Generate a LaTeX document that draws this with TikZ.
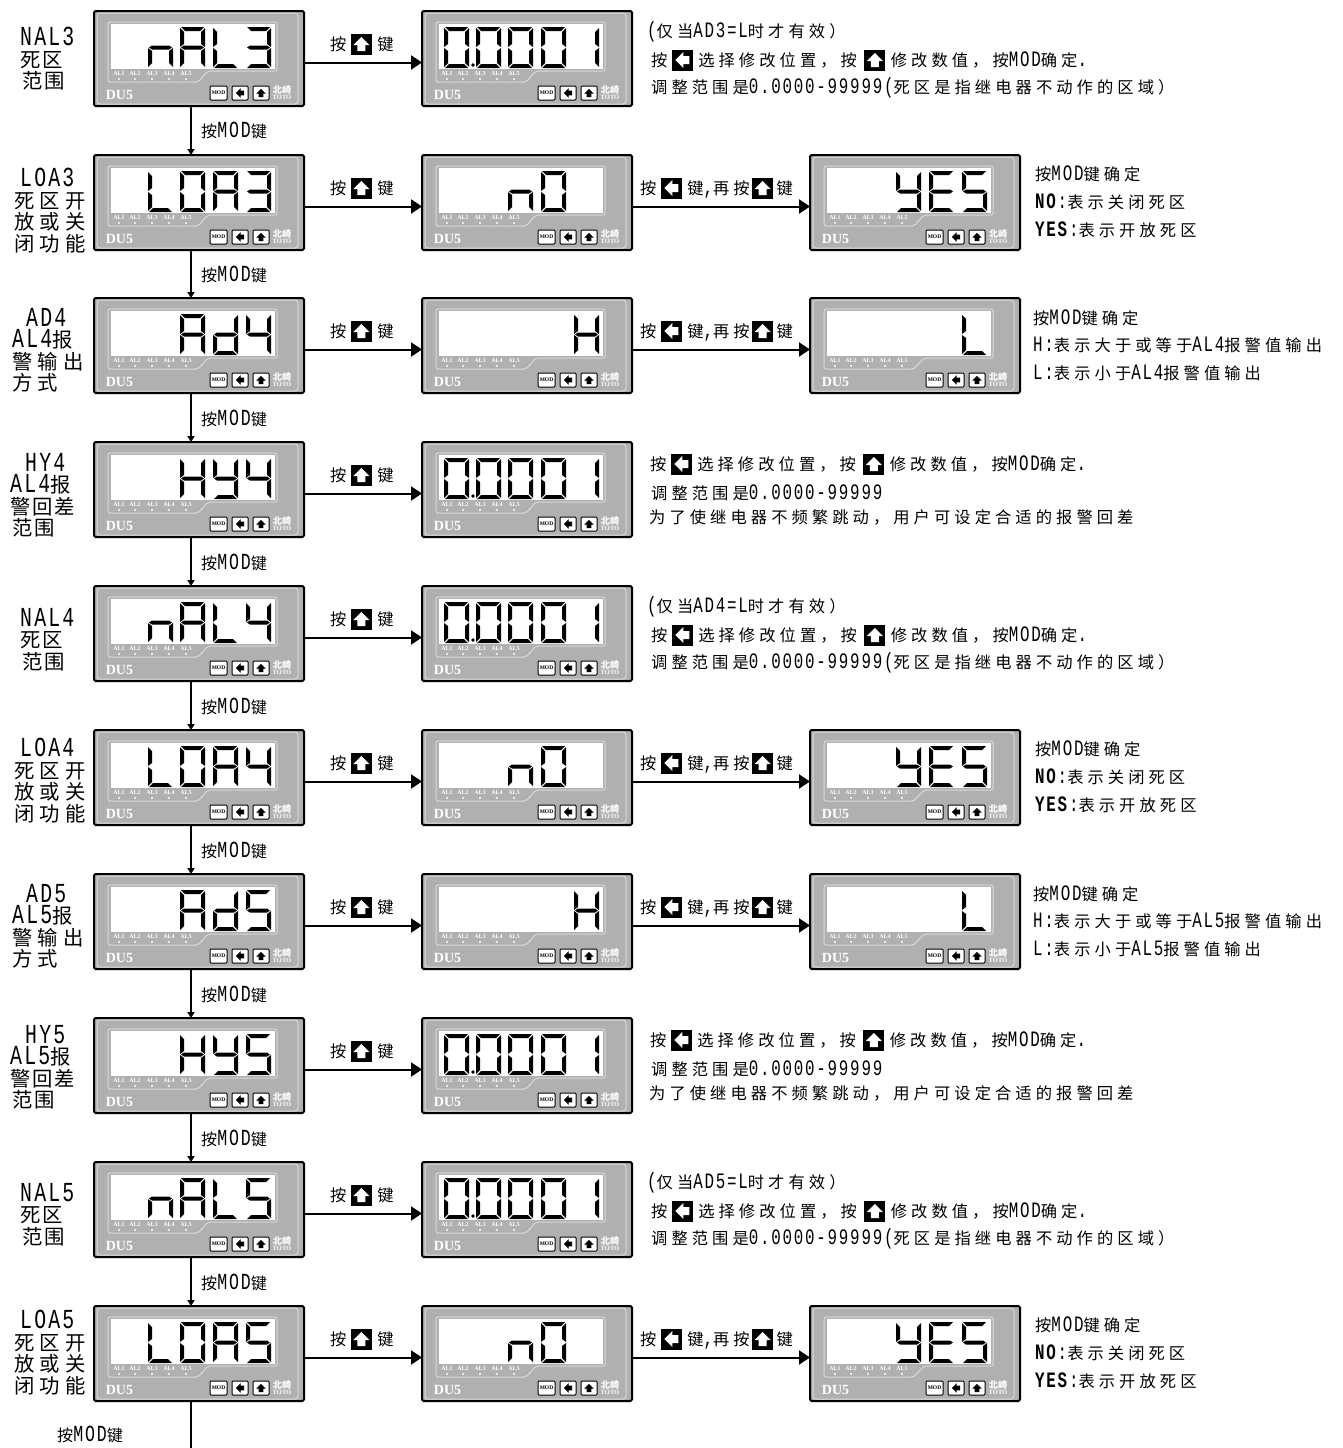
\documentclass[tikz,border=0pt]{standalone}
\usepackage{fontspec}
\setmainfont[FakeStretch=0.72,LetterSpace=8]{Liberation Mono}
\newfontfamily\zhfont[Scale=0.74,LetterSpace=25]{Noto Sans CJK SC}
\newfontfamily\zhtight[Scale=0.7]{Noto Sans CJK SC}
\newfontfamily\panelfont{Liberation Serif}
\newcommand{\zh}[1]{{\zhfont #1}}
\usetikzlibrary{positioning}
\usetikzlibrary{arrows.meta}
\definecolor{panelgray}{RGB}{176,176,176}
\newcommand{\keymark}[4]{\fill[#2,shift={(#1.center)},rotate=#3,scale=#4] (0,-7)--(8,1)--(4,1)--(4,7)--(-4,7)--(-4,1)--(-8,1)--cycle;}
\tikzset{
  panelbox/.style= {draw, line width=2pt, fill=panelgray, rounded corners=1.5pt, anchor=north west, outer sep=0, inner sep=0, minimum width=210pt, minimum height=95pt},
  rim/.style= {draw=white!85!black, line width=1pt},
  txt/.style= {inner sep=0, anchor=west, text height=13pt, text depth=0pt, font=\fontsize{22}{22}\selectfont},
  steplbl/.style= {inner sep=0, anchor=west, text height=13pt, text depth=0pt, font=\fontsize{23}{23}\selectfont},
  lbl/.style= {inner sep=0, anchor=north west, align=left, font=\fontsize{27.5}{21.5}\selectfont},
  keybox/.style= {fill=black, inner sep=0, minimum size=21pt},
  btn/.style= {draw, fill=white, line width=1pt, rounded corners=1pt, inner sep=0, minimum height=14pt, minimum width=16pt},
  flowh/.style= {line width=2pt, -{Triangle[length=11pt,width=14pt]}},
  flowv/.style= {line width=2pt, -{Triangle[length=6pt,width=7pt]}},
}
% segments of one digit
\newcommand{\sega}{\fill (1,0)--(24,0)--(20,4)--(5,4)--cycle;}
\newcommand{\segd}{\fill (1,41)--(24,41)--(20,37)--(5,37)--cycle;}
\newcommand{\segf}{\fill (0,1)--(4,5)--(4,17)--(0,20)--cycle;}
\newcommand{\sege}{\fill (0,21)--(4,24)--(4,36)--(0,40)--cycle;}
\newcommand{\segb}{\fill (25,1)--(21,5)--(21,17)--(25,20)--cycle;}
\newcommand{\segc}{\fill (25,21)--(21,24)--(21,36)--(25,40)--cycle;}
\newcommand{\segg}{\fill (1,20.5)--(4,18.5)--(21,18.5)--(24,20.5)--(21,22.5)--(4,22.5)--cycle;}
\newcommand{\segp}{\fill (29,38) circle (1.8);}
\expandafter\def\csname gln\endcsname{c,e,g}
\expandafter\def\csname glA\endcsname{a,b,c,e,f,g}
\expandafter\def\csname glL\endcsname{d,e,f}
\expandafter\def\csname glH\endcsname{b,c,e,f,g}
\expandafter\def\csname glY\endcsname{b,c,d,f,g}
\expandafter\def\csname glE\endcsname{a,d,e,f,g}
\expandafter\def\csname glS\endcsname{a,c,d,f,g}
\expandafter\def\csname gld\endcsname{b,c,d,e,g}
\expandafter\def\csname gl0\endcsname{a,b,c,d,e,f}
\expandafter\def\csname gl1\endcsname{b,c}
\expandafter\def\csname gl3\endcsname{a,b,c,d,g}
\expandafter\def\csname gl4\endcsname{b,c,f,g}
\expandafter\def\csname gl5\endcsname{a,c,d,f,g}
\expandafter\def\csname glp\endcsname{p}
\newcommand{\zeros}{23/p,23/0,55/0,87/0,120/0,153/1}
\newcommand{\offword}{87/n,120/0}
\newcommand{\yesword}{87/Y,120/E,153/S}
\newcommand{\highword}{153/H}
\newcommand{\lowword}{153/L}
% name, left, top, digits
\newcommand{\panel}[4]{
  \node [panelbox] (#1) at (#2+1,#3+1) {};
  \begin{scope}[shift={(#2,#3)}]
    \draw [rim, rounded corners=3pt] (4,3) rectangle (205,94);
    \draw [rim, rounded corners=2pt] (15,12)--(184,12)--(184,61)--(115,61)--(105,72)--(15,72)--cycle;
    \fill [white] (18,14) rectangle (182,59);
    \foreach \i/\xx in {1/26,2/42,3/59,4/76,5/93} {
      \node [white, inner sep=0, font=\fontsize{6}{6}\panelfont\bfseries] (#1al\i) at (\xx,63.5) {AL\i};
      \fill [white] (\xx,69) circle (1.2);
    }
    \node [white, inner sep=0, font=\fontsize{14}{14}\panelfont\bfseries] (#1du) at (26.5,85) {DU5};
    \node [btn, minimum width=17pt, font=\fontsize{5.5}{5.5}\panelfont\bfseries] (#1mod) at (125.5,83) {MOD};
    \node [btn] (#1left) at (147,83) {};
    \node [btn] (#1up) at (168,83) {};
    \keymark{#1left}{black}{90}{.6}
    \keymark{#1up}{black}{0}{.6}
    \node [white, inner sep=0, font=\fontsize{13}{13}\zhtight\bfseries] (#1zh) at (189,80) {北崎};
    \node [white, inner sep=0, font=\fontsize{6.5}{6.5}\panelfont\bfseries] (#1toto) at (189,87.5) {TOTO};
    \edef\wordlist{#4}
    \foreach \xx/\ch in \wordlist {
      \edef\seglist{\csname gl\ch\endcsname}
      \begin{scope}[shift={(\xx,17)}]
        \foreach \s in \seglist {\csname seg\s\endcsname}
      \end{scope}
    }
  \end{scope}
}
% name, left, y
\newcommand{\pressup}[3]{
  \node [txt] (#1a) at (#2,#3) {\zh{按}};
  \node [keybox, right=4pt of #1a] (#1k) {};
  \keymark{#1k}{white}{0}{1}
  \node [txt, right=5pt of #1k] (#1b) {\zh{键}};
}
\newcommand{\pressboth}[3]{
  \node [txt] (#1a) at (#2,#3) {\zh{按}};
  \node [keybox, right=4pt of #1a] (#1k) {};
  \keymark{#1k}{white}{90}{1}
  \node [txt, right=5pt of #1k] (#1b) {\zh{键},\zh{再按}};
  \node [keybox, right=2pt of #1b] (#1j) {};
  \keymark{#1j}{white}{0}{1}
  \node [txt, right=3pt of #1j] (#1c) {\zh{键}};
}
\newcommand{\editline}[3]{
  \node [txt] (#1a) at (#2,#3) {\zh{按}};
  \node [keybox, right=4pt of #1a] (#1k) {};
  \keymark{#1k}{white}{90}{1}
  \node [txt, right=5pt of #1k] (#1b) {\zh{选择修改位置，按}};
  \node [keybox, right=7pt of #1b] (#1j) {};
  \keymark{#1j}{white}{0}{1}
  \node [txt, right=5pt of #1j] (#1c) {\zh{修改数值，按}MOD\zh{确定}.};
}
% name, top, second panel
\newcommand{\rowvalue}[2]{
  \panel{#1v}{421}{#2}{\zeros}
  \pressup{#1p}{330}{#2+34}
  \draw [flowh] ([yshift=-4pt]#1.east) -- ([yshift=-4pt]#1v.west);
}
\newcommand{\rowswitch}[4]{
  \panel{#1v}{421}{#2}{#3}
  \panel{#1s}{809}{#2}{#4}
  \pressup{#1p}{330}{#2+34}
  \pressboth{#1q}{640}{#2+34}
  \draw [flowh] ([yshift=-4pt]#1.east) -- ([yshift=-4pt]#1v.west);
  \draw [flowh] ([yshift=-4pt]#1v.east) -- ([yshift=-4pt]#1s.west);
}
\newcommand{\notedead}[3]{
  \node [txt] (#1x) at (647,#2+21) {(\zh{仅当}#3=L\zh{时才有效）}};
  \editline{#1e}{651}{#2+50}
  \node [txt] (#1y) at (651,#2+77) {\zh{调整范围是}0.0000-99999(\zh{死区是指继电器不动作的区域）}};
}
\newcommand{\notehyst}[2]{
  \editline{#1e}{650}{#2+23}
  \node [txt] (#1x) at (651,#2+52) {\zh{调整范围是}0.0000-99999};
  \node [txt] (#1y) at (649,#2+76) {\zh{为了使继电器不频繁跳动，用户可设定合适的报警回差}};
}
\newcommand{\noteopen}[2]{
  \node [txt] (#1x) at (1035,#2+20) {\zh{按}MOD\zh{键确定}};
  \node [txt] (#1y) at (1035,#2+48) {\textbf{NO}:\zh{表示关闭死区}};
  \node [txt] (#1z) at (1035,#2+76) {\textbf{YES}:\zh{表示开放死区}};
}
\newcommand{\notelevel}[3]{
  \node [txt] (#1x) at (1033,#2+21) {\zh{按}MOD\zh{键确定}};
  \node [txt] (#1y) at (1033,#2+48) {H:\zh{表示大于或等于}#3\zh{报警值输出}};
  \node [txt] (#1z) at (1033,#2+76) {L:\zh{表示小于}#3\zh{报警值输出}};
}
\begin{document}
\begin{tikzpicture}[x=1pt, y=-1pt]
  \useasboundingbox (0,0) rectangle (1342,1448);

  \panel{nal3}{93}{10}{55/n,87/A,120/L,153/3}
  \panel{loa3}{93}{154}{55/L,87/0,120/A,153/3}
  \panel{ad4}{93}{297}{87/A,120/d,153/4}
  \panel{hy4}{93}{441}{87/H,120/Y,153/4}
  \panel{nal4}{93}{585}{55/n,87/A,120/L,153/4}
  \panel{loa4}{93}{729}{55/L,87/0,120/A,153/4}
  \panel{ad5}{93}{873}{87/A,120/d,153/5}
  \panel{hy5}{93}{1017}{87/H,120/Y,153/5}
  \panel{nal5}{93}{1161}{55/n,87/A,120/L,153/5}
  \panel{loa5}{93}{1305}{55/L,87/0,120/A,153/5}

  \rowvalue{nal3}{10}
  \rowswitch{loa3}{154}{\offword}{\yesword}
  \rowswitch{ad4}{297}{\highword}{\lowword}
  \rowvalue{hy4}{441}
  \rowvalue{nal4}{585}
  \rowswitch{loa4}{729}{\offword}{\yesword}
  \rowswitch{ad5}{873}{\highword}{\lowword}
  \rowvalue{hy5}{1017}
  \rowvalue{nal5}{1161}
  \rowswitch{loa5}{1305}{\offword}{\yesword}

  \node [lbl] (nal3l) at (20,27) {NAL3\\\zh{死\hspace{2pt}区}\\\hspace{2pt}\zh{范\hspace{2pt}围}};
  \node [lbl] (loa3l) at (14,168) {\hspace{6pt}LOA3\\\zh{死区开}\\\zh{放或关}\\\zh{闭功能}};
  \node [lbl] (ad4l) at (12,308) {\hspace{14pt}AD4\\AL4\zh{报}\\\zh{警输出}\\\zh{方式}};
  \node [lbl] (hy4l) at (10,453) {\hspace{15pt}HY4\\AL4\zh{报}\\\zh{警\hspace{2pt}回\hspace{2pt}差}\\\hspace{2pt}\zh{范\hspace{2pt}围}};
  \node [lbl] (nal4l) at (20,608) {NAL4\\\zh{死\hspace{2pt}区}\\\hspace{2pt}\zh{范\hspace{2pt}围}};
  \node [lbl] (loa4l) at (14,738) {\hspace{6pt}LOA4\\\zh{死区开}\\\zh{放或关}\\\zh{闭功能}};
  \node [lbl] (ad5l) at (12,884) {\hspace{14pt}AD5\\AL5\zh{报}\\\zh{警输出}\\\zh{方式}};
  \node [lbl] (hy5l) at (10,1025) {\hspace{15pt}HY5\\AL5\zh{报}\\\zh{警\hspace{2pt}回\hspace{2pt}差}\\\hspace{2pt}\zh{范\hspace{2pt}围}};
  \node [lbl] (nal5l) at (20,1183) {NAL5\\\zh{死\hspace{2pt}区}\\\hspace{2pt}\zh{范\hspace{2pt}围}};
  \node [lbl] (loa5l) at (14,1310) {\hspace{6pt}LOA5\\\zh{死区开}\\\zh{放或关}\\\zh{闭功能}};

  \notedead{nal3n}{10}{AD3}
  \noteopen{loa3n}{154}
  \notelevel{ad4n}{297}{AL4}
  \notehyst{hy4n}{441}
  \notedead{nal4n}{585}{AD4}
  \noteopen{loa4n}{729}
  \notelevel{ad5n}{873}{AL5}
  \notehyst{hy5n}{1017}
  \notedead{nal5n}{1161}{AD5}
  \noteopen{loa5n}{1305}

  \foreach \a/\b/\y in {nal3/loa3/131,loa3/ad4/275,ad4/hy4/419,hy4/nal4/563,nal4/loa4/707,loa4/ad5/851,ad5/hy5/995,hy5/nal5/1139,nal5/loa5/1283} {
    \draw [flowv] ([xshift=-8pt]\a.south) -- ([xshift=-8pt]\b.north);
    \node [steplbl] (\a mod) at (201,\y) {{\zhtight 按}MOD{\zhtight 键}};
  }
  \coordinate (bottomend) at (191,1448);
  \draw [line width=2pt] ([xshift=-8pt]loa5.south) -- (bottomend);
  \node [steplbl] (loa5mod) at (57,1435) {{\zhtight 按}MOD{\zhtight 键}};
\end{tikzpicture}
\end{document}
